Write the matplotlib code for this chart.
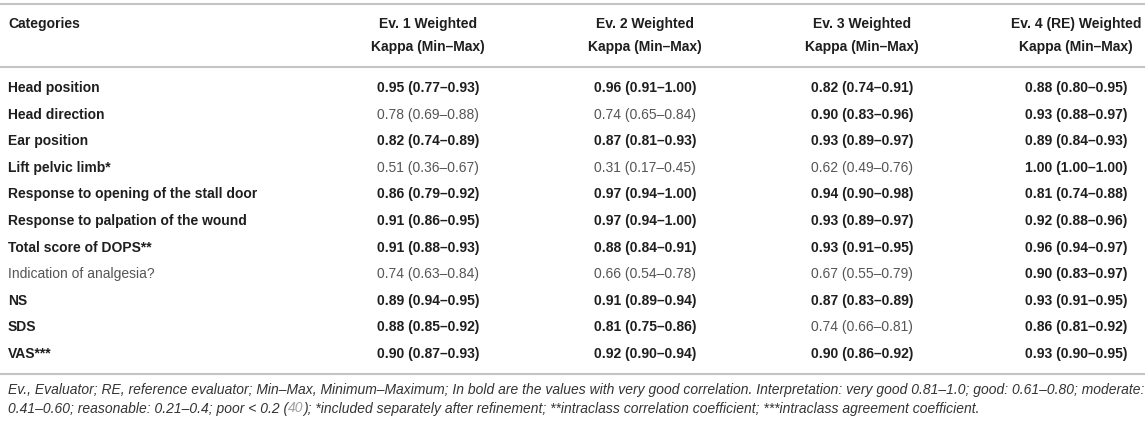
import matplotlib
matplotlib.use("Agg")
import matplotlib.pyplot as plt

plt.rcParams["font.family"] = ["Liberation Sans", "DejaVu Sans"]

W, H = 1145, 422

categories = [
    "Head position",
    "Head direction",
    "Ear position",
    "Lift pelvic limb*",
    "Response to opening of the stall door",
    "Response to palpation of the wound",
    "Total score of DOPS**",
    "Indication of analgesia?",
    "NS",
    "SDS",
    "VAS***",
]
category_bold = [True, True, True, True, True, True, True, False, True, True, True]

header_top = ["Ev. 1 Weighted", "Ev. 2 Weighted", "Ev. 3 Weighted", "Ev. 4 (RE) Weighted"]
header_bottom = ["Kappa (Min–Max)"] * 4

ev1_kappa = [0.95, 0.78, 0.82, 0.51, 0.86, 0.91, 0.91, 0.74, 0.89, 0.88, 0.90]
ev1_min = [0.77, 0.69, 0.74, 0.36, 0.79, 0.86, 0.88, 0.63, 0.94, 0.85, 0.87]
ev1_max = [0.93, 0.88, 0.89, 0.67, 0.92, 0.95, 0.93, 0.84, 0.95, 0.92, 0.93]

ev2_kappa = [0.96, 0.74, 0.87, 0.31, 0.97, 0.97, 0.88, 0.66, 0.91, 0.81, 0.92]
ev2_min = [0.91, 0.65, 0.81, 0.17, 0.94, 0.94, 0.84, 0.54, 0.89, 0.75, 0.90]
ev2_max = [1.00, 0.84, 0.93, 0.45, 1.00, 1.00, 0.91, 0.78, 0.94, 0.86, 0.94]

ev3_kappa = [0.82, 0.90, 0.93, 0.62, 0.94, 0.93, 0.93, 0.67, 0.87, 0.74, 0.90]
ev3_min = [0.74, 0.83, 0.89, 0.49, 0.90, 0.89, 0.91, 0.55, 0.83, 0.66, 0.86]
ev3_max = [0.91, 0.96, 0.97, 0.76, 0.98, 0.97, 0.95, 0.79, 0.89, 0.81, 0.92]

ev4_kappa = [0.88, 0.93, 0.89, 1.00, 0.81, 0.92, 0.96, 0.90, 0.93, 0.86, 0.93]
ev4_min = [0.80, 0.88, 0.84, 1.00, 0.74, 0.88, 0.94, 0.83, 0.91, 0.81, 0.90]
ev4_max = [0.95, 0.97, 0.93, 1.00, 0.88, 0.96, 0.97, 0.97, 0.95, 0.92, 0.95]

# values >= this are shown in bold ("very good" agreement)
VERY_GOOD = 0.81

footnote_1 = ("Ev., Evaluator; RE, reference evaluator; Min–Max, Minimum–Maximum; In bold are the values "
              "with very good correlation. Interpretation: very good 0.81–1.0; good: 0.61–0.80; moderate:")
footnote_2 = [
    ("0.41–0.60; reasonable: 0.21–0.4; poor < 0.2 (", "#333333"),
    ("40", "#a0a0a0"),
    ("); *included separately after refinement; **intraclass correlation coefficient; "
     "***intraclass agreement coefficient.", "#333333"),
]

DARK = "#1e1e1e"
GREY = "#555555"
RULE = "#c4c4c4"
FS = 10.0


def px(x, y):
    return x / W, 1 - y / H


def hline(fig, y):
    fig.add_artist(plt.Line2D([0, 1], [1 - y / H] * 2, color=RULE, lw=1.5, transform=fig.transFigure))


def main() -> None:
    fig = plt.figure(figsize=(W / 100, H / 100), dpi=100)
    fig.patch.set_facecolor("white")

    hline(fig, 3.5)
    hline(fig, 66.5)
    hline(fig, 374)

    # text is placed on baselines (pixel rows from the top)
    col_x = [428, 645, 862, 1076]
    fig.text(*px(8, 28), "Categories", fontsize=FS, fontweight="bold", color=DARK, va="baseline", ha="left")
    for cx, top, bottom in zip(col_x, header_top, header_bottom):
        fig.text(*px(cx, 28), top, fontsize=FS, fontweight="bold", color=DARK, va="baseline", ha="center")
        fig.text(*px(cx, 50.5), bottom, fontsize=FS, fontweight="bold", color=DARK, va="baseline", ha="center")

    columns = [
        (ev1_kappa, ev1_min, ev1_max),
        (ev2_kappa, ev2_min, ev2_max),
        (ev3_kappa, ev3_min, ev3_max),
        (ev4_kappa, ev4_min, ev4_max),
    ]
    row_y0, row_step = 92, 26.6
    for i, cat in enumerate(categories):
        y = row_y0 + i * row_step
        b = category_bold[i]
        fig.text(*px(8, y), cat, fontsize=FS, fontweight="bold" if b else "normal",
                 color=DARK if b else GREY, va="baseline", ha="left")
        for cx, (k, lo, hi) in zip(col_x, columns):
            strong = k[i] >= VERY_GOOD
            fig.text(*px(cx, y), f"{k[i]:.2f} ({lo[i]:.2f}–{hi[i]:.2f})", fontsize=FS,
                     fontweight="bold" if strong else "normal", color=DARK if strong else GREY,
                     va="baseline", ha="center")

    fn_fs = 9.96
    fig.text(*px(8, 394), footnote_1, fontsize=fn_fs, style="italic", color="#333333", va="baseline", ha="left")

    fig.canvas.draw()
    renderer = fig.canvas.get_renderer()
    x = 8
    for chunk, color in footnote_2:
        t = fig.text(*px(x, 412.5), chunk, fontsize=fn_fs, style="italic", color=color, va="baseline", ha="left")
        x += t.get_window_extent(renderer).width

    fig.savefig("out.png", dpi=100)
    plt.close(fig)


if __name__ == "__main__":
    main()
